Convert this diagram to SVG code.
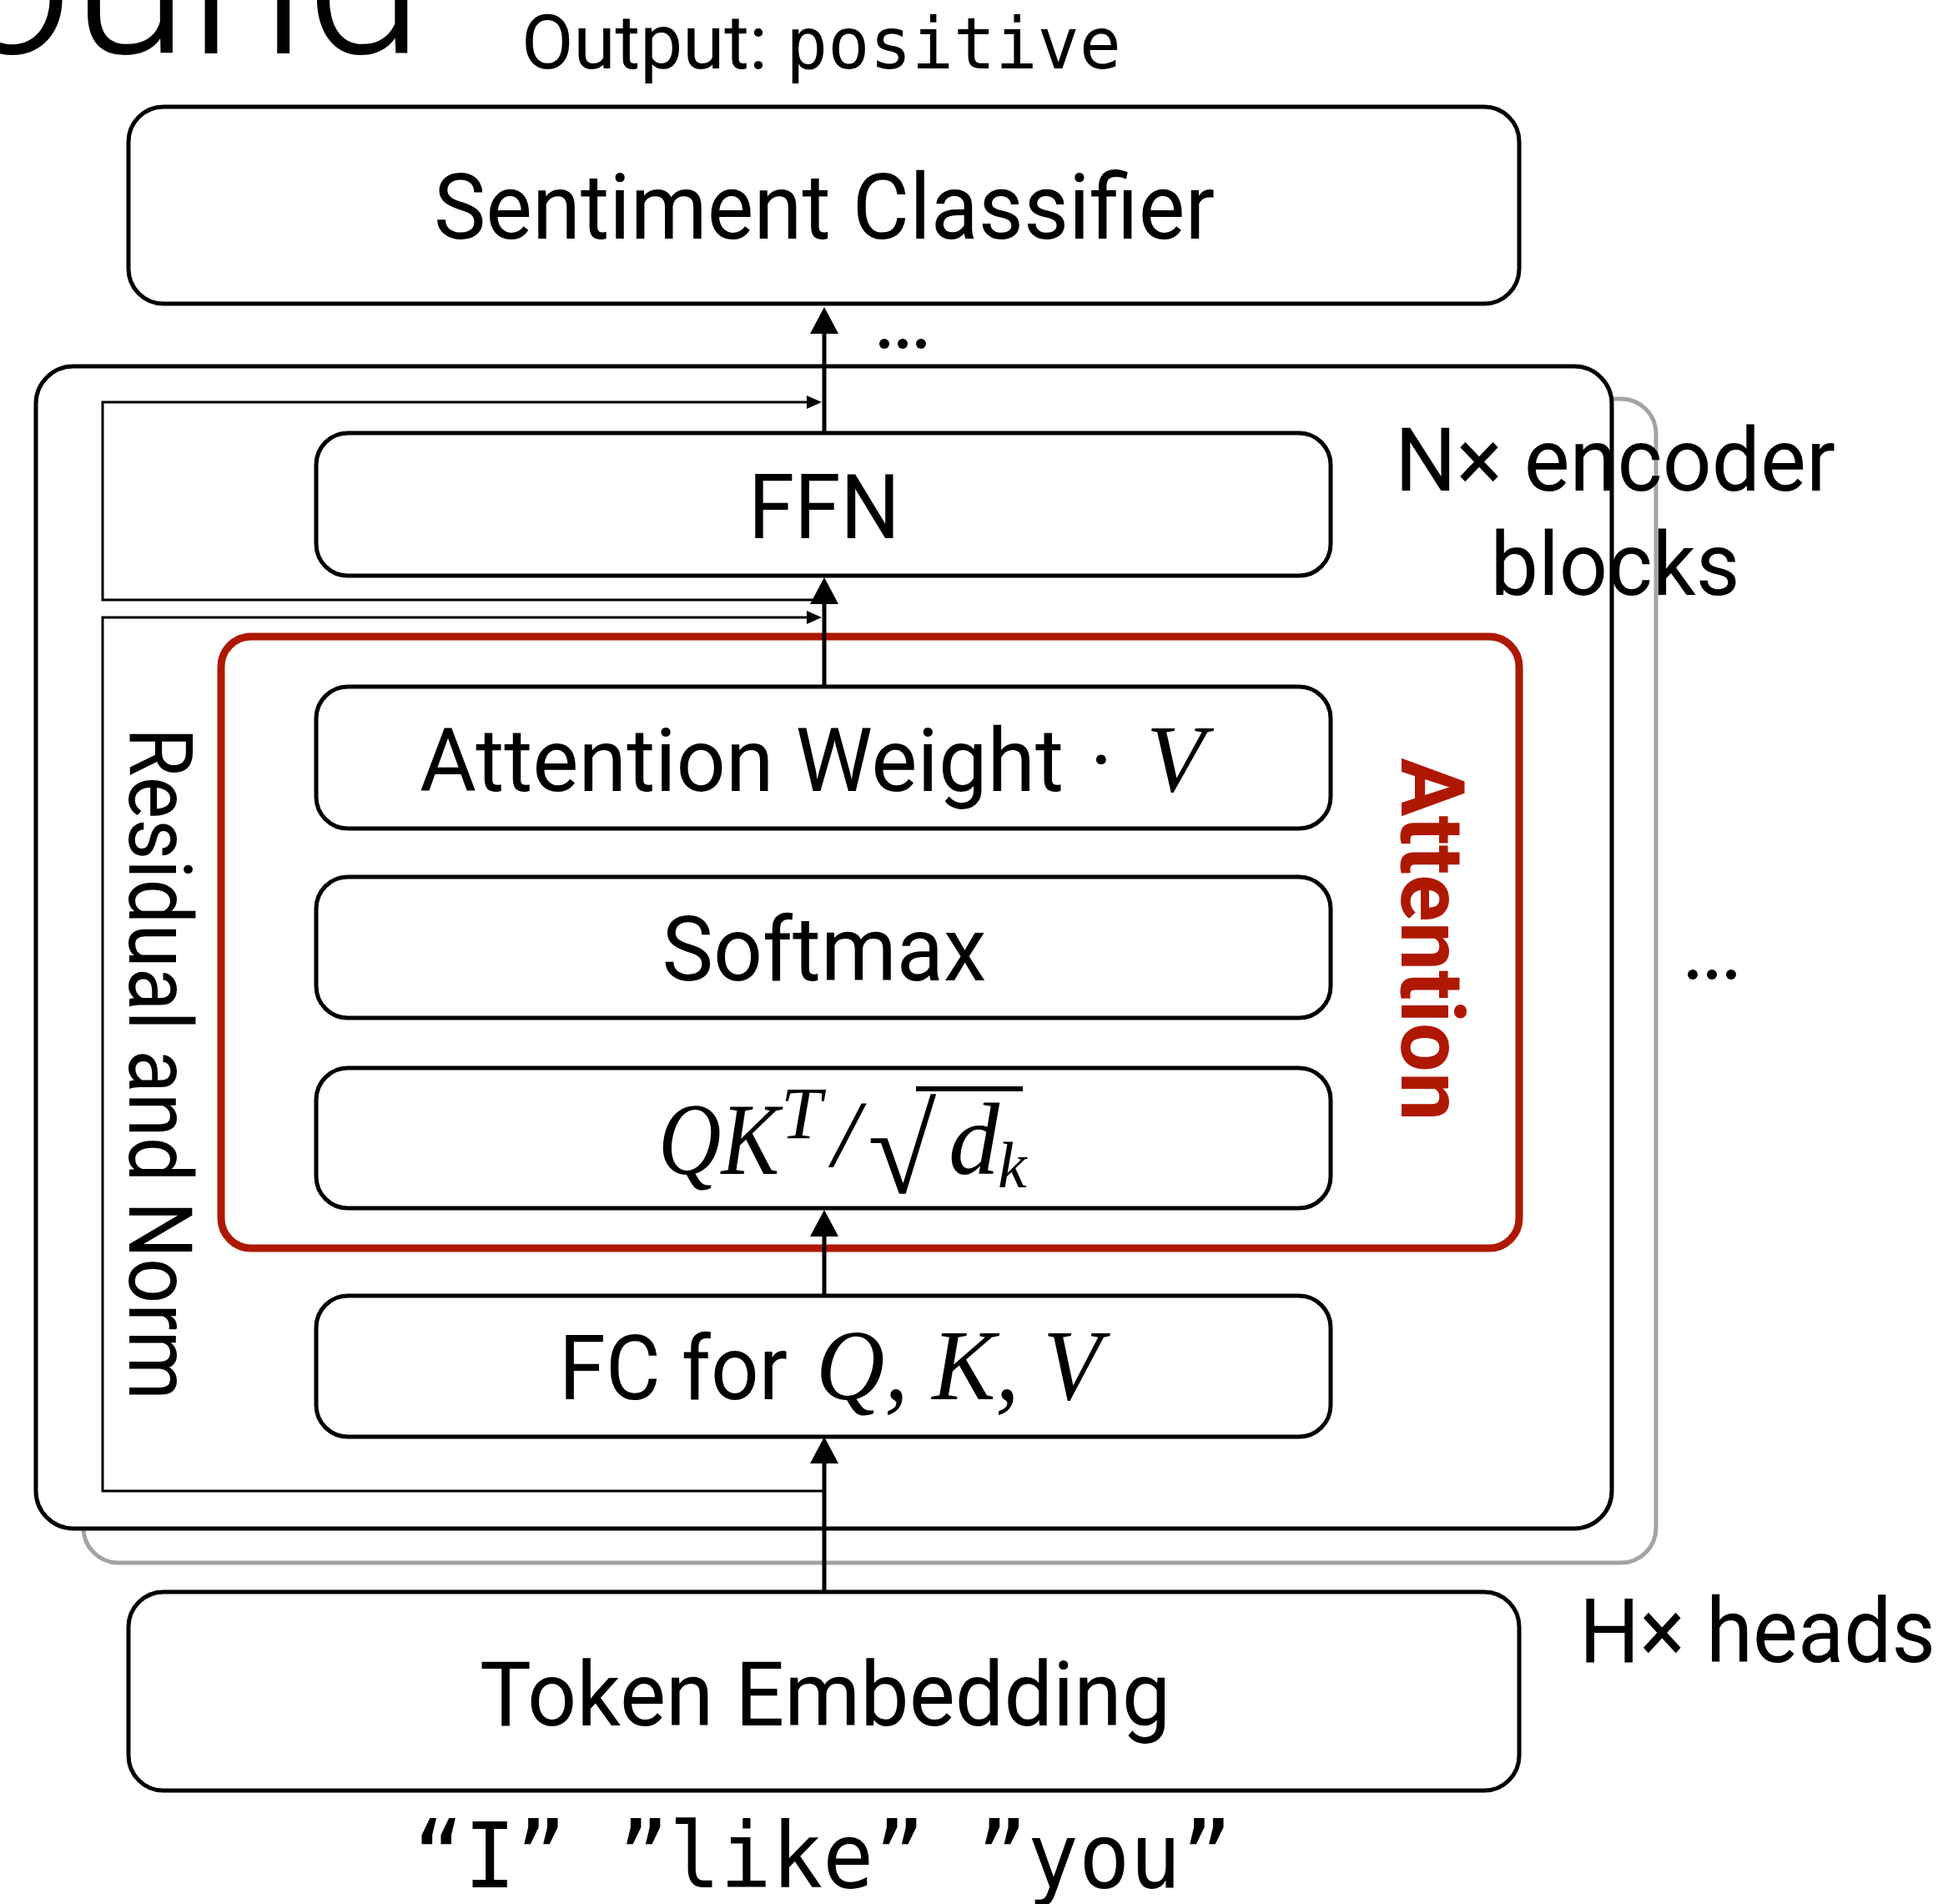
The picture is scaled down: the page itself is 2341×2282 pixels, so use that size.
<svg xmlns="http://www.w3.org/2000/svg" width="2341" height="2282" viewBox="0 0 2341 2282">
<style>
.sans{font-family:Roboto,"Liberation Sans",sans-serif;fill:#000}
.si{font-family:"Liberation Serif","Times New Roman",serif;font-style:italic;fill:#000}
.mono{font-family:"DejaVu Sans Mono","Liberation Mono",monospace;fill:#000}
.box{fill:#fff;stroke:#000;stroke-width:5}
.thin{fill:none;stroke:#000;stroke-width:3}
.main{fill:none;stroke:#000;stroke-width:5}
</style>
<defs>
<marker id="ah" markerUnits="userSpaceOnUse" markerWidth="32" markerHeight="34" refX="22" refY="17" orient="auto"><path d="M0,0 L32,17 L0,34 z" fill="#000"/></marker>
<marker id="ahs" markerUnits="userSpaceOnUse" markerWidth="18" markerHeight="16" refX="12" refY="8" orient="auto"><path d="M0,0 L18,8 L0,16 z" fill="#000"/></marker>
</defs>
<rect width="2341" height="2282" fill="#fff"/>
<text id="title" class="sans" x="508" y="64" font-size="255" font-weight="300" text-anchor="end">ound</text>
<g id="output">
<text class="sans" x="625" y="82" font-size="90" textLength="295" lengthAdjust="spacingAndGlyphs">Output:</text>
<text class="mono" x="942" y="82" font-size="85" textLength="402" lengthAdjust="spacingAndGlyphs">positive</text>
</g>
<g id="sentiment">
<rect class="box" x="154" y="128" width="1667" height="236" rx="42"/>
<text class="sans" x="988" y="286" font-size="110" text-anchor="middle" textLength="936" lengthAdjust="spacingAndGlyphs">Sentiment Classifier</text>
</g>
<g id="encoder-stack">
<rect x="100" y="478" width="1885" height="1395" rx="42" fill="#fff" stroke="#a3a3a3" stroke-width="5"/>
<rect class="box" x="43" y="439" width="1889" height="1393" rx="45"/>
</g>
<g id="ffn">
<rect class="box" x="379" y="519" width="1216" height="171" rx="38"/>
<text class="sans" x="988" y="645" font-size="107" text-anchor="middle" textLength="182" lengthAdjust="spacingAndGlyphs">FFN</text>
</g>
<g id="attention">
<rect x="265" y="763" width="1556" height="733" rx="36" fill="none" stroke="#af1800" stroke-width="9"/>
<text class="sans" transform="translate(1680,1126) rotate(90)" x="0" y="0" font-size="106" font-weight="bold" style="fill:#af1800" text-anchor="middle" textLength="435" lengthAdjust="spacingAndGlyphs">Attention</text>
</g>
<g id="attn-weight">
<rect class="box" x="379" y="823" width="1216" height="170" rx="38"/>
<text class="sans" x="503" y="948" font-size="106" textLength="772" lengthAdjust="spacingAndGlyphs">Attention Weight</text>
<text class="sans" x="1320" y="948" font-size="106" text-anchor="middle">·</text>
<text class="si" x="1374" y="948" font-size="115">V</text>
</g>
<g id="softmax">
<rect class="box" x="379" y="1051" width="1216" height="169" rx="38"/>
<text class="sans" x="988" y="1175" font-size="108" text-anchor="middle" textLength="389" lengthAdjust="spacingAndGlyphs">Softmax</text>
</g>
<g id="qk">
<rect class="box" x="379" y="1280" width="1216" height="168" rx="38"/>
<text class="si" x="789" y="1407" font-size="122" textLength="145" lengthAdjust="spacingAndGlyphs">QK</text>
<text class="si" x="936" y="1364" font-size="88">T</text>
<text class="si" x="998" y="1398" font-size="115">/</text>
<text class="si" x="1040" y="1430" font-size="150" style="font-style:normal">√</text>
<line x1="1098" y1="1305" x2="1226" y2="1305" stroke="#000" stroke-width="6"/>
<text class="si" x="1137" y="1407" font-size="122">d</text>
<text class="si" x="1196" y="1423" font-size="78">k</text>
</g>
<g id="fc">
<rect class="box" x="379" y="1553" width="1216" height="169" rx="38"/>
<text class="sans" x="670" y="1677" font-size="108" textLength="274" lengthAdjust="spacingAndGlyphs">FC for</text>
<text class="si" x="978" y="1677" font-size="120" textLength="342" lengthAdjust="spacingAndGlyphs">Q, K, V</text>
</g>
<g id="residual-label">
<text class="sans" transform="translate(155,1275) rotate(90)" x="0" y="0" font-size="105" text-anchor="middle" textLength="806" lengthAdjust="spacingAndGlyphs">Residual and Norm</text>
</g>
<g id="token-embedding">
<rect class="box" x="154" y="1908" width="1667" height="238" rx="42"/>
<text class="sans" x="989" y="2068" font-size="108" text-anchor="middle" textLength="828" lengthAdjust="spacingAndGlyphs">Token Embedding</text>
</g>
<g id="tokens">
<text class="mono" x="495" y="2262" font-size="108" textLength="982" lengthAdjust="spacingAndGlyphs">“I” ”like” ”you”</text>
</g>
<g id="labels">
<text class="sans" x="1936" y="588" font-size="105" text-anchor="middle" textLength="528" lengthAdjust="spacingAndGlyphs">N× encoder</text>
<text class="sans" x="1936" y="713" font-size="105" text-anchor="middle" textLength="299" lengthAdjust="spacingAndGlyphs">blocks</text>
<text class="sans" x="1893" y="1992" font-size="108" textLength="427" lengthAdjust="spacingAndGlyphs">H× heads</text>
</g>
<g id="ellipses" fill="#000">
<circle cx="1060" cy="412" r="6"/><circle cx="1082" cy="412" r="6"/><circle cx="1104" cy="412" r="6"/>
<circle cx="2029" cy="1168" r="6"/><circle cx="2052" cy="1168" r="6"/><circle cx="2075" cy="1168" r="6"/>
</g>
<g id="connectors">
<line class="main" x1="988" y1="1908" x2="988" y2="1732" marker-end="url(#ah)"/>
<line class="main" x1="988" y1="1553" x2="988" y2="1460" marker-end="url(#ah)"/>
<line class="main" x1="988" y1="823" x2="988" y2="702" marker-end="url(#ah)"/>
<line class="main" x1="988" y1="519" x2="988" y2="378" marker-end="url(#ah)"/>
<polyline class="thin" points="988,719 123,719 123,482 979,482" marker-end="url(#ahs)"/>
<polyline class="thin" points="988,1787 123,1787 123,740 979,740" marker-end="url(#ahs)"/>
</g>
</svg>
